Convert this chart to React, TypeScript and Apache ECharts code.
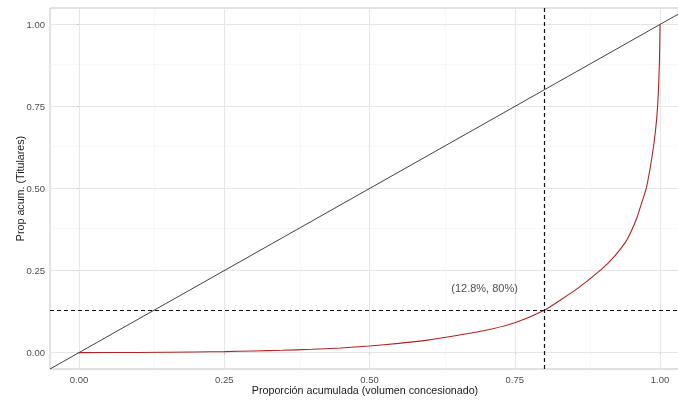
import React, { useEffect, useRef } from "react";
import * as echarts from "echarts";

const tickValues = [0, 0.25, 0.5, 0.75, 1];
const minorValues = [0.125, 0.375, 0.625, 0.875];
const tickLabels = ["0.00", "0.25", "0.50", "0.75", "1.00"];

const curveX = [0, 0.1, 0.2, 0.25, 0.3, 0.35, 0.4, 0.45, 0.5, 0.55, 0.6, 0.65, 0.7, 0.75, 0.8, 0.83, 0.86, 0.9, 0.92, 0.94, 0.95, 0.96, 0.97, 0.977, 0.988, 0.994, 0.997, 0.999, 1.0];
const curveY = [0, 0.0004, 0.002, 0.003, 0.005, 0.007, 0.01, 0.014, 0.02, 0.028, 0.038, 0.052, 0.068, 0.091, 0.128, 0.162, 0.198, 0.255, 0.29, 0.335, 0.368, 0.41, 0.465, 0.506, 0.618, 0.709, 0.79, 0.89, 1.0];

const cutX = 0.8;
const cutY = 0.128;
const annotationText = "(12.8%, 80%)";
const annotationPos = [0.698, 0.198];

const xTitle = "Proporción acumulada (volumen concesionado)";
const yTitle = "Prop acum. (Titulares)";

const FONT = "'Liberation Sans', Arial, sans-serif";

export default function App() {
  const ref = useRef<HTMLDivElement>(null);
  useEffect(() => {
    if (!ref.current) return;
    const chart = echarts.init(ref.current, null, { renderer: "svg" });
    const gridLines: any[] = [];
    minorValues.forEach((v) => {
      gridLines.push({ xAxis: v, lineStyle: { color: "#f3f3f3", width: 0.6, type: "solid" } });
      gridLines.push({ yAxis: v, lineStyle: { color: "#f3f3f3", width: 0.6, type: "solid" } });
    });
    tickValues.forEach((v) => {
      gridLines.push({ xAxis: v, lineStyle: { color: "#e6e6e6", width: 1, type: "solid" } });
      gridLines.push({ yAxis: v, lineStyle: { color: "#e6e6e6", width: 1, type: "solid" } });
    });
    const labelFmt = (v: number) => {
      const i = tickValues.findIndex((t) => Math.abs(t - v) < 1e-9);
      return i >= 0 ? tickLabels[i] : "";
    };
    chart.setOption({
      animation: false,
      textStyle: { fontFamily: FONT },
      grid: {
        left: 50,
        top: 8,
        right: -2,
        bottom: 31,
        show: true,
        borderColor: "#c4c4c4",
        borderWidth: 1,
        backgroundColor: "transparent",
        outerBoundsMode: "none",
        containLabel: false,
      },
      xAxis: {
        type: "value",
        min: -0.05,
        max: -0.05 + 630 / 581,
        name: xTitle,
        nameLocation: "middle",
        nameGap: 15,
        nameMoveOverlap: false,
        nameTextStyle: { color: "#1a1a1a", fontSize: 10.7, fontFamily: FONT },
        axisLine: { show: false },
        axisTick: { show: true, customValues: tickValues, length: 2, lineStyle: { color: "#c4c4c4" } },
        axisLabel: { customValues: tickValues, formatter: labelFmt, color: "#4d4d4d", fontSize: 9.5, margin: 5, fontFamily: FONT },
        splitLine: { show: false },
      },
      yAxis: {
        type: "value",
        min: -0.05,
        max: 1.05,
        name: yTitle,
        nameLocation: "middle",
        nameGap: 25,
        nameMoveOverlap: false,
        nameRotate: 90,
        nameTextStyle: { color: "#1a1a1a", fontSize: 10.7, fontFamily: FONT },
        axisLine: { show: false },
        axisTick: { show: true, customValues: tickValues, length: 2, lineStyle: { color: "#c4c4c4" } },
        axisLabel: { customValues: tickValues, formatter: labelFmt, color: "#4d4d4d", fontSize: 9.5, margin: 5, fontFamily: FONT },
        splitLine: { show: false },
      },
      series: [
        {
          type: "line",
          data: [],
          silent: true,
          z: 0,
          markLine: { silent: true, z: 0, symbol: "none", label: { show: false }, data: gridLines, animation: false },
        },
        {
          type: "line",
          data: [[-0.05, -0.05], [1.05, 1.05]],
          symbol: "none",
          silent: true,
          z: 3,
          lineStyle: { color: "#2b2b2b", width: 0.9 },
        },
        {
          type: "line",
          data: curveX.map((x, i) => [x, curveY[i]]),
          symbol: "none",
          smooth: 0.2,
          silent: true,
          z: 4,
          lineStyle: { color: "#b22222", width: 1.1 },
        },
        {
          type: "line",
          data: [],
          silent: true,
          z: 5,
          markLine: {
            silent: true,
            z: 5,
            symbol: "none",
            label: { show: false },
            lineStyle: { color: "#111", width: 1.2, type: [4, 3] },
            data: [{ xAxis: cutX }, { yAxis: cutY }],
            animation: false,
          },
        },
        {
          type: "scatter",
          data: [annotationPos],
          symbolSize: 0,
          silent: true,
          z: 6,
          label: {
            show: true,
            position: "inside",
            formatter: annotationText,
            color: "#1a1a1a",
            fontSize: 11,
            fontFamily: FONT,
          },
        },
      ],
    });
    return () => chart.dispose();
  }, []);
  return <div ref={ref} style={{ position: "fixed", left: 0, top: 0, width: 678, height: 400 }} />;
}
